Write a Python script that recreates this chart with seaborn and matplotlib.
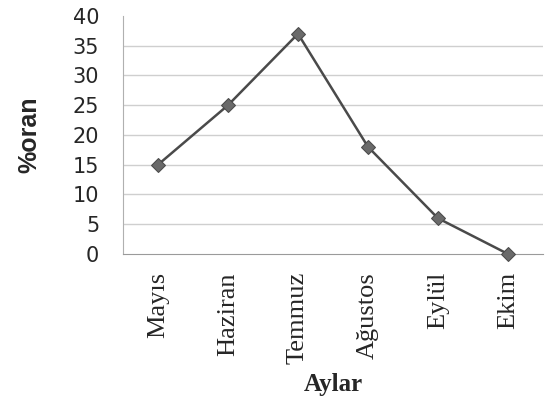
import matplotlib
matplotlib.use("Agg")
import matplotlib.pyplot as plt
import seaborn as sns
import pandas as pd
import numpy as np

months = ["Mayıs", "Haziran", "Temmuz", "Ağustos", "Eylül", "Ekim"]
oran = [15, 25, 37, 18, 6, 0]
yticks = [0, 5, 10, 15, 20, 25, 30, 35, 40]

sns.set_style("white")

df = pd.DataFrame({"ay": months, "oran": oran})

fig = plt.figure(figsize=(5.51, 4.09), dpi=100)
ax = fig.add_axes([0.2232, 0.379, 0.7623, 0.582])

sns.lineplot(data=df, x="ay", y="oran", ax=ax, color="#4a4a4a", linewidth=1.8,
             marker="D", markersize=7, markerfacecolor="#6a6a6a",
             markeredgecolor="#4a4a4a", sort=False, clip_on=False, zorder=5)

ax.set_ylim(0, 40)
ax.set_xlim(-0.5, len(months) - 0.5)
ax.set_yticks(yticks)
ax.set_yticklabels([str(v) for v in yticks], fontfamily="DejaVu Sans", fontsize=15)

# horizontal grid lines from 5 to 35
for v in yticks[1:-1]:
    ax.axhline(v, color="#cfcfcf", linewidth=1, zorder=0)

ax.set_xticks(range(len(months)))
ax.set_xticklabels(months, rotation=90, fontfamily="Liberation Serif", fontsize=19,
                   ha="center", va="top")
ax.set_xticks(np.arange(-0.5, len(months), 1.0), minor=True)
ax.tick_params(axis="x", which="major", length=0, pad=13)
ax.tick_params(axis="x", which="minor", length=6, color="#b0b0b0", direction="out")
ax.tick_params(axis="y", length=7, color="#b0b0b0", direction="out", pad=10)

for side in ["top", "right"]:
    ax.spines[side].set_visible(False)
ax.spines["left"].set_color("#b0b0b0")
ax.spines["bottom"].set_color("#9a9a9a")

ax.set_ylabel("%oran", fontfamily="Liberation Sans", fontweight="bold", fontsize=18, labelpad=23)
ax.set_xlabel("Aylar", fontfamily="Liberation Serif", fontweight="bold", fontsize=18, labelpad=6)

fig.savefig("out.png", dpi=100)
